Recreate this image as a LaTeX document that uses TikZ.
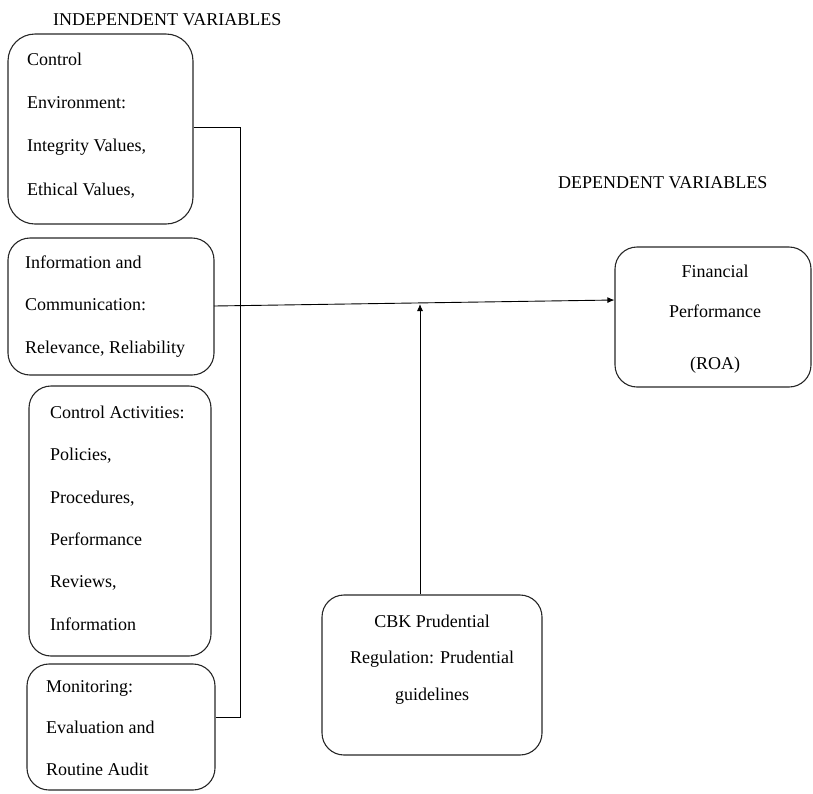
\documentclass[tikz,border=0pt]{standalone}
\usepackage{fontspec}
\setmainfont{Liberation Serif}
\usetikzlibrary{arrows.meta}
\begin{document}
\begin{tikzpicture}[x=1pt,y=-1pt,
  box/.style={draw=black!85, line width=1.1pt, rounded corners=22pt, inner sep=0pt},
  txt/.style={inner sep=0pt, anchor=north west, align=left},
  head/.style={inner sep=0pt, anchor=base west, font=\fontsize{18}{22}\selectfont},
  conn/.style={draw=black, line width=0.9pt},
  arr/.style={conn, -{Latex[length=7pt,width=6pt]}}]
\useasboundingbox (0,0) rectangle (813,793);

% headings
\node[head] (indep) at (53,25) {INDEPENDENT VARIABLES};
\node[head] (dep) at (558,188) {DEPENDENT VARIABLES};

% boxes
\node[box, rounded corners=27pt, minimum width=185pt, minimum height=190pt] (ce) at (100.5,129) {};
\node[box, minimum width=206pt, minimum height=137pt] (ic) at (111,306.5) {};
\node[box, minimum width=182pt, minimum height=270pt] (ca) at (120,521) {};
\node[box, minimum width=188pt, minimum height=126pt] (mo) at (121,727) {};
\node[box, minimum width=196pt, minimum height=140pt] (fp) at (713,317) {};
\node[box, minimum width=220pt, minimum height=160pt] (cbk) at (432,675) {};

% texts
\node[txt, font=\fontsize{18}{43.3}\selectfont] (ceT) at (27,52)
  {\rule{0pt}{13pt}Control\\Environment:\\Integrity Values,\\Ethical Values,};
\node[txt, font=\fontsize{18}{42.5}\selectfont] (icT) at (25,255)
  {\rule{0pt}{13pt}Information and\\Communication:\\Relevance, Reliability};
\node[txt, font=\fontsize{18}{42.4}\selectfont] (caT) at (50,405)
  {\rule{0pt}{13pt}Control Activities:\\Policies,\\Procedures,\\Performance\\Reviews,\\Information};
\node[txt, font=\fontsize{18}{41.5}\selectfont] (moT) at (46,679)
  {\rule{0pt}{13pt}Monitoring:\\Evaluation and\\Routine Audit};
\node[inner sep=0pt, anchor=north, align=center, font=\fontsize{18}{40}\selectfont] (fpT) at (715,264)
  {\rule{0pt}{13pt}Financial\\Performance\\[12pt](ROA)};
\node[inner sep=0pt, anchor=north, align=center, font=\fontsize{18}{36.5}\selectfont] (cbkT) at (432,614)
  {\rule{0pt}{13pt}CBK Prudential\\Regulation: Prudential\\guidelines};

% connectors
\coordinate (bus1) at (240,127);
\coordinate (bus2) at (240,717);
\coordinate (tip) at (615,300);
\coordinate (meet) at (420,304);
\coordinate (start) at (214,306);
\draw[conn] (ce.east |- bus1) -- (bus1) -- (bus2) -- (mo.east |- bus2);
\draw[arr] (start) -- (fp.west |- tip);
\draw[arr] (cbk.north -| meet) -- (meet);
\end{tikzpicture}
\end{document}
